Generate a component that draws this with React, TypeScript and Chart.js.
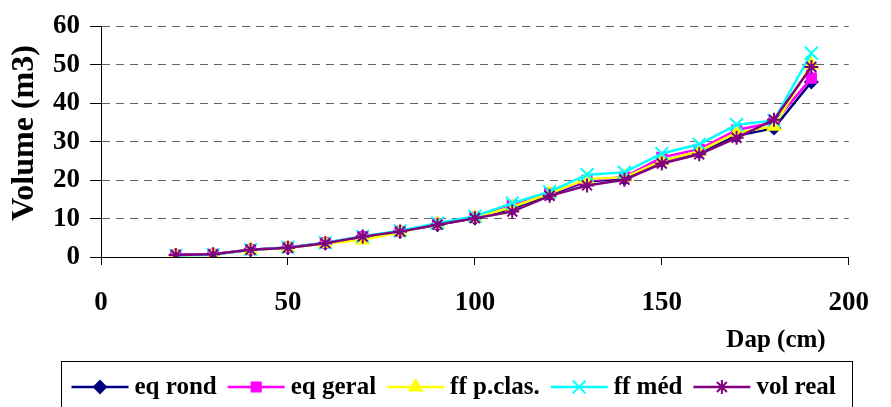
import React, { useEffect, useRef } from "react";
import { Chart, registerables } from "chart.js";
import { drawPoint } from "chart.js/helpers";

Chart.register(...registerables);

// ---- data ----
const dap = [20, 30, 40, 50, 60, 70, 80, 90, 100, 110, 120, 130, 140, 150, 160, 170, 180, 190];
const eqRond = [0.5, 0.7, 1.9, 2.4, 3.6, 5.2, 6.6, 8.4, 10.1, 12.6, 16.3, 19.6, 20.4, 25.0, 27.3, 31.5, 33.5, 45.5];
const eqGeral = [0.5, 0.7, 1.9, 2.5, 3.7, 5.3, 6.7, 8.6, 10.3, 13.4, 16.6, 19.9, 20.8, 25.9, 28.0, 33.0, 35.0, 46.5];
const ffPClas = [0.4, 0.6, 1.8, 2.4, 3.5, 4.4, 6.5, 8.5, 10.2, 13.0, 16.5, 20.3, 20.7, 25.0, 27.5, 32.3, 34.0, 50.0];
const ffMed = [0.4, 0.6, 1.9, 2.5, 3.7, 5.4, 6.8, 8.8, 10.6, 14.0, 17.0, 21.4, 22.0, 26.9, 29.3, 34.4, 35.5, 53.0];
const volReal = [0.5, 0.7, 1.9, 2.4, 3.6, 5.3, 6.6, 8.4, 10.1, 11.8, 15.9, 18.6, 20.1, 24.3, 26.7, 31.0, 35.7, 49.4];
const seriesNames = ["eq rond", "eq geral", "ff p.clas.", "ff méd", "vol real"];
const xTitle = "Dap (cm)";
const yTitle = "Volume (m3)";

const FONT = "'Liberation Serif', 'Times New Roman', serif";

export default function App() {
  const ref = useRef<HTMLCanvasElement>(null);

  useEffect(() => {
    if (!ref.current) return;
    const styles = [
      { color: "#000080", pointStyle: "rectRot", radius: 6 },
      { color: "#FF00FF", pointStyle: "rect", radius: 6.5 },
      { color: "#FFFF00", pointStyle: "triangle", radius: 7 },
      { color: "#00FFFF", pointStyle: "crossRot", radius: 9 },
      { color: "#800080", pointStyle: "star", radius: 7 },
    ];
    const values = [eqRond, eqGeral, ffPClas, ffMed, volReal];
    const datasets = values.map((vals, i) => ({
      label: seriesNames[i],
      data: dap.map((x, j) => ({ x, y: vals[j] })),
      borderColor: styles[i].color,
      backgroundColor: styles[i].color,
      pointBackgroundColor: styles[i].color,
      pointBorderColor: styles[i].color,
      pointStyle: styles[i].pointStyle,
      pointRadius: styles[i].radius,
      pointBorderWidth: 2,
      borderWidth: 2.5,
      tension: 0,
      order: 4 - i,
    }));

    const overlay = {
      id: "overlay",
      afterDraw(chart: any) {
        const ctx = chart.ctx as CanvasRenderingContext2D;
        ctx.save();
        ctx.fillStyle = "#000";
        ctx.font = `bold 25px ${FONT}`;
        ctx.textAlign = "center";
        ctx.textBaseline = "alphabetic";
        ctx.fillText(xTitle, 776, 347);

        // y title
        ctx.save();
        ctx.translate(33, 133);
        ctx.rotate(-Math.PI / 2);
        ctx.font = `bold 32px ${FONT}`;
        ctx.fillText(yTitle, 0, 0);
        ctx.restore();

        ctx.strokeStyle = "#000";
        ctx.lineWidth = 1;
        ctx.strokeRect(61.5, 361.5, 791, 80);

        let x = 71.5;
        const ly = 387;
        ctx.textAlign = "left";
        chart.data.datasets.forEach((ds: any) => {
          ctx.strokeStyle = ds.borderColor;
          ctx.lineWidth = 2.5;
          ctx.beginPath();
          ctx.moveTo(x, ly);
          ctx.lineTo(x + 57, ly);
          ctx.stroke();
          ctx.fillStyle = ds.pointBackgroundColor;
          ctx.strokeStyle = ds.pointBorderColor;
          ctx.lineWidth = 2;
          drawPoint(ctx, { pointStyle: ds.pointStyle, radius: ds.pointRadius, rotation: 0, borderWidth: 2 } as any, x + 28.5, ly);
          ctx.fillStyle = "#000";
          ctx.font = `bold 25px ${FONT}`;
          const tx = x + 57 + 6;
          ctx.fillText(ds.label, tx, 394);
          x = tx + ctx.measureText(ds.label).width + 11;
        });
        ctx.restore();
      },
    };

    const tickFont = { family: FONT, size: 27, weight: "bold" as const };
    const chart = new Chart(ref.current, {
      type: "line",
      data: { datasets: datasets as any },
      options: {
        responsive: false,
        animation: false,
        layout: { padding: { top: 24, right: 24, left: 0, bottom: 0 } },
        plugins: { legend: { display: false }, tooltip: { enabled: false } },
        scales: {
          x: {
            type: "linear",
            min: 0,
            max: 200,
            ticks: { stepSize: 50, font: tickFont, color: "#000", padding: 22, maxRotation: 0 },
            grid: { drawOnChartArea: false, drawTicks: true, tickLength: 8, tickColor: "#000" },
            border: { color: "#000", width: 1 },
            afterFit: (s: any) => {
              s.height = 150;
            },
          },
          y: {
            min: 0,
            max: 60,
            ticks: { stepSize: 10, font: tickFont, color: "#000", padding: 10 },
            grid: {
              color: (c: any) => (c.tick && c.tick.value === 0 ? "rgba(0,0,0,0)" : "#666"),
              tickLength: 11,
              tickColor: "#000",
            },
            border: { color: "#000", width: 1, dash: [8, 6] },
            afterFit: (s: any) => {
              s.width = 101;
            },
          },
        },
      },
      plugins: [overlay],
    });
    return () => chart.destroy();
  }, []);

  return (
    <div style={{ position: "absolute", left: 0, top: 0, width: 891, height: 407, background: "#fff" }}>
      <canvas ref={ref} width={891} height={407} style={{ display: "block" }} />
    </div>
  );
}
